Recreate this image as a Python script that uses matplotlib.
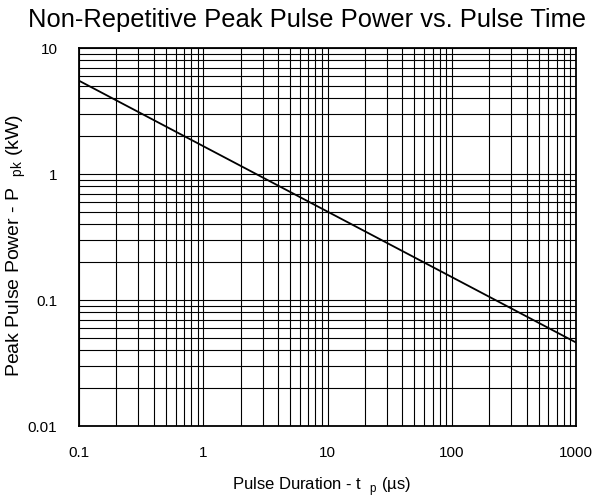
import matplotlib
matplotlib.use("Agg")
import matplotlib.pyplot as plt
from matplotlib.ticker import LogLocator, NullFormatter
import numpy as np

plt.rcParams['font.family'] = ['Liberation Sans', 'DejaVu Sans']
plt.rcParams['mathtext.fontset'] = 'custom'
plt.rcParams['mathtext.rm'] = 'Liberation Sans'

pulse_time_us = [0.1, 1000]
peak_power_kw = [5.5, 0.046]
x_ticks = [0.1, 1, 10, 100, 1000]
x_tick_labels = ["0.1", "1", "10", "100", "1000"]
y_ticks = [0.01, 0.1, 1, 10]
y_tick_labels = ["0.01", "0.1", "1", "10"]

W, H = 600, 504
fig = plt.figure(figsize=(W/100, H/100), dpi=100)
ax = fig.add_axes([79/W, 1-426/H, (576-79)/W, (426-48)/H])
ax.set_xscale('log')
ax.set_yscale('log')
ax.set_xlim(0.1, 1000)
ax.set_ylim(0.01, 10)

ax.plot(pulse_time_us, peak_power_kw, color='black', lw=1.3, zorder=3)

ax.set_xticks(x_ticks)
ax.set_xticklabels(x_tick_labels)
ax.set_yticks(y_ticks)
ax.set_yticklabels(y_tick_labels)
ax.xaxis.set_minor_locator(LogLocator(base=10, subs=np.arange(2, 10)))
ax.yaxis.set_minor_locator(LogLocator(base=10, subs=np.arange(2, 10)))
ax.xaxis.set_minor_formatter(NullFormatter())
ax.yaxis.set_minor_formatter(NullFormatter())
ax.tick_params(which='both', length=0, labelsize=11)
ax.tick_params(axis='x', pad=14.5)
ax.tick_params(axis='y', pad=15.5)
ax.grid(True, which='both', color='black', lw=0.8)
for s in ax.spines.values():
    s.set_linewidth(1.3)

fig.text(322/W, 1-490/H, r"Pulse Duration - t  $_{\mathregular{p}}$ (µs)",
         ha='center', va='baseline', fontsize=12)
fig.text(16/W, 1-245.5/H, r"Peak Pulse Power - P  $_{\mathregular{pk}}$ (kW)",
         ha='center', va='center', rotation=90, fontsize=14)
fig.text(307/W, 1-26.7/H, "Non-Repetitive Peak Pulse Power vs. Pulse Time",
         ha='center', va='baseline', fontsize=18.4)

fig.savefig("out.png", dpi=100)
